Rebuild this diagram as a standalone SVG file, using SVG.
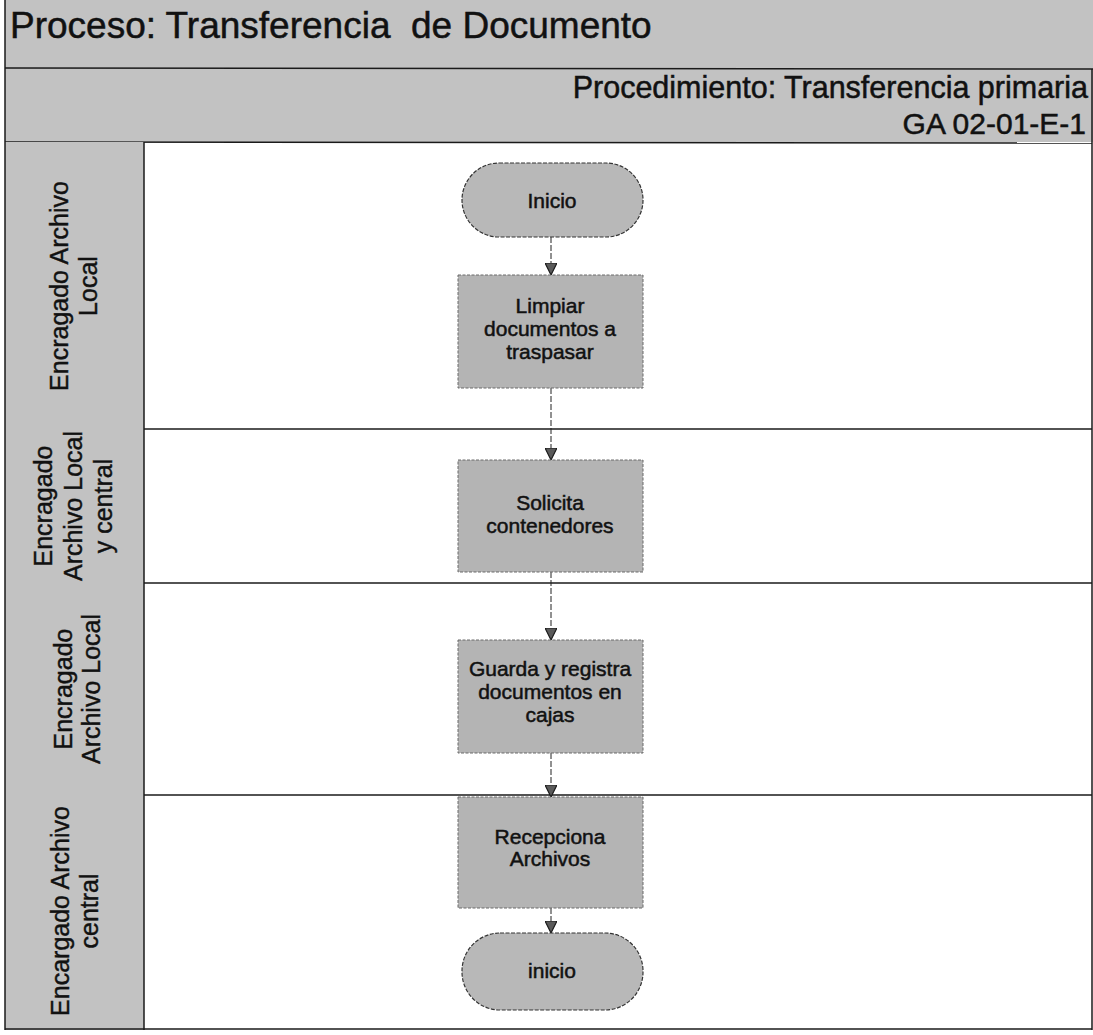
<svg xmlns="http://www.w3.org/2000/svg" width="1093" height="1035" viewBox="0 0 1093 1035">
  <style>
    .band { fill: #c2c2c2; }
    .rule { stroke: #1a1a1a; stroke-width: 1.5; fill: none; }
    .proc { fill: #b4b4b4; stroke: #6a6a6a; stroke-width: 1; stroke-dasharray: 3 1.5; }
    .term { fill: #b8b8b8; stroke: #333; stroke-width: 1.2; stroke-dasharray: 4 1.5; }
    .lbl { font-family: "Liberation Sans", Arial, sans-serif; font-size: 21px; fill: #111; stroke: #111; stroke-width: 0.5; text-anchor: middle; }
    .lane { font-family: "Liberation Sans", Arial, sans-serif; font-size: 25px; fill: #111; stroke: #111; stroke-width: 0.4; text-anchor: middle; }
    .head { font-family: "Liberation Sans", Arial, sans-serif; fill: #111; stroke: #111; stroke-width: 0.5; }
    .flow { stroke: #222; stroke-width: 1; stroke-dasharray: 6 2; fill: none; }
  </style>
  <defs>
    <marker id="arrow" viewBox="0 0 12 12" refX="12" refY="6" markerWidth="12" markerHeight="12" markerUnits="userSpaceOnUse" orient="auto">
      <path d="M0,0 L12,6 L0,12 Z" fill="#5a5a5a" stroke="#1a1a1a" stroke-width="1.2"/>
    </marker>
  </defs>

  <!-- page background -->
  <rect x="0" y="0" width="1093" height="1035" fill="#ffffff"/>

  <!-- header bands -->
  <g id="header">
    <rect class="band" x="5" y="0" width="1088" height="142"/>
    <line class="rule" x1="5" y1="68" x2="1093" y2="69"/>
    <line class="rule" x1="5" y1="142" x2="1092" y2="143"/>
    <text class="head" x="10" y="38" font-size="37">Proceso: Transferencia&#160; de Documento</text>
    <text class="head" x="1088" y="98" font-size="30.5" text-anchor="end">Procedimiento: Transferencia primaria</text>
    <text class="head" x="1086" y="134" font-size="30" text-anchor="end">GA 02-01-E-1</text>
  </g>

  <!-- swimlane frame -->
  <g id="lanes">
    <rect class="band" x="5" y="142" width="139" height="888"/>
    <line class="rule" x1="144" y1="142" x2="144" y2="1030"/>
    <line class="rule" x1="144" y1="429" x2="1092" y2="429"/>
    <line class="rule" x1="144" y1="583" x2="1092" y2="583"/>
    <line class="rule" x1="144" y1="795" x2="1092" y2="795"/>
    <line class="rule" x1="5" y1="1029" x2="1092" y2="1029"/>
    <line class="rule" x1="5" y1="0" x2="5" y2="1030"/>
    <line class="rule" x1="1092" y1="69" x2="1092" y2="1030"/>
  </g>

  <!-- lane titles -->
  <g id="lane-1">
    <text class="lane" transform="translate(0,286) rotate(-90)"><tspan x="0" y="68">Encragado Archivo</tspan><tspan x="0" y="97">Local</tspan></text>
  </g>
  <g id="lane-2">
    <text class="lane" transform="translate(0,506) rotate(-90)"><tspan x="0" y="52">Encragado</tspan><tspan x="0" y="82">Archivo Local</tspan><tspan x="0" y="112">y central</tspan></text>
  </g>
  <g id="lane-3">
    <text class="lane" transform="translate(0,689) rotate(-90)"><tspan x="0" y="72">Encragado</tspan><tspan x="0" y="100">Archivo Local</tspan></text>
  </g>
  <g id="lane-4">
    <text class="lane" transform="translate(0,911) rotate(-90)"><tspan x="0" y="69">Encargado Archivo</tspan><tspan x="0" y="98">central</tspan></text>
  </g>

  <!-- connectors -->
  <g id="connectors">
    <line class="flow" x1="551" y1="237" x2="551" y2="275" marker-end="url(#arrow)"/>
    <line class="flow" x1="551" y1="388" x2="551" y2="460" marker-end="url(#arrow)"/>
    <line class="flow" x1="551" y1="572" x2="551" y2="640" marker-end="url(#arrow)"/>
    <line class="flow" x1="551" y1="753" x2="551" y2="797" marker-end="url(#arrow)"/>
    <line class="flow" x1="551" y1="908" x2="551" y2="933" marker-end="url(#arrow)"/>
  </g>

  <!-- nodes -->
  <g id="start">
    <rect class="term" x="462" y="163" width="181" height="74" rx="37" ry="37"/>
    <text class="lbl" x="552" y="208">Inicio</text>
  </g>
  <g id="limpiar">
    <rect class="proc" x="458" y="275" width="185" height="113"/>
    <text class="lbl" x="550" y="313">Limpiar</text>
    <text class="lbl" x="550" y="336">documentos a</text>
    <text class="lbl" x="550" y="359">traspasar</text>
  </g>
  <g id="solicita">
    <rect class="proc" x="458" y="460" width="185" height="112"/>
    <text class="lbl" x="550" y="510">Solicita</text>
    <text class="lbl" x="550" y="533">contenedores</text>
  </g>
  <g id="guarda">
    <rect class="proc" x="458" y="640" width="185" height="113"/>
    <text class="lbl" x="550" y="676">Guarda y registra</text>
    <text class="lbl" x="550" y="699">documentos en</text>
    <text class="lbl" x="550" y="722">cajas</text>
  </g>
  <g id="recepciona">
    <rect class="proc" x="458" y="797" width="185" height="111"/>
    <text class="lbl" x="550" y="844">Recepciona</text>
    <text class="lbl" x="550" y="866">Archivos</text>
  </g>
  <g id="end">
    <rect class="term" x="462" y="933" width="181" height="77" rx="38" ry="38"/>
    <text class="lbl" x="552" y="978">inicio</text>
  </g>
</svg>
